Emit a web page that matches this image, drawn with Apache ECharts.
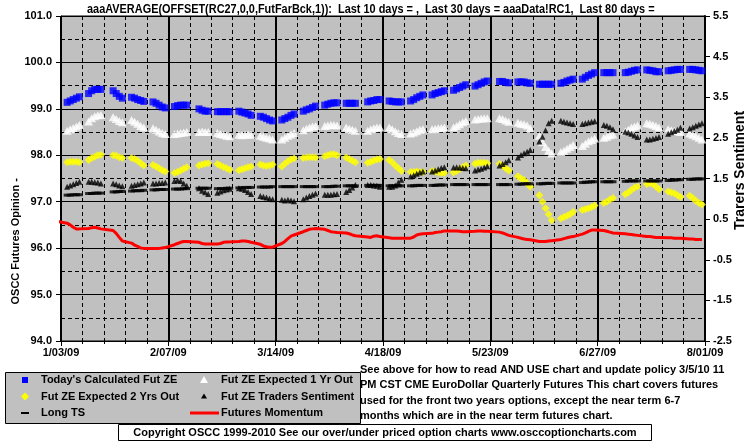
<!DOCTYPE html>
<html><head><meta charset="utf-8">
<script src="https://cdn.jsdelivr.net/npm/echarts@6/dist/echarts.min.js"></script>
<style>html,body{margin:0;padding:0;background:#fff}#c{width:755px;height:446px}</style>
</head><body><div id="c"></div>
<script>
// ---- data (trading days 2009) ----
const dates = ['1/2',
'1/5','1/6','1/7','1/8','1/9','1/12','1/13','1/14','1/15','1/16','1/20','1/21','1/22','1/23',
'1/26','1/27','1/28','1/29','1/30','2/2','2/3','2/4','2/5','2/6','2/9','2/10','2/11','2/12','2/13',
'2/17','2/18','2/19','2/20','2/23','2/24','2/25','2/26','2/27','3/2','3/3','3/4','3/5','3/6',
'3/9','3/10','3/11','3/12','3/13','3/16','3/17','3/18','3/19','3/20','3/23','3/24','3/25','3/26','3/27',
'3/30','3/31','4/1','4/2','4/3','4/6','4/7','4/8','4/9','4/13','4/14','4/15','4/16','4/17',
'4/20','4/21','4/22','4/23','4/24','4/27','4/28','4/29','4/30','5/1','5/4','5/5','5/6','5/7','5/8',
'5/11','5/12','5/13','5/14','5/15','5/18','5/19','5/20','5/21','5/22','5/26','5/27','5/28','5/29',
'6/1','6/2','6/3','6/4','6/5','6/8','6/9','6/10','6/11','6/12','6/15','6/16','6/17','6/18','6/19',
'6/22','6/23','6/24','6/25','6/26','6/29','6/30','7/1','7/2','7/6','7/7','7/8','7/9','7/10',
'7/13','7/14','7/15','7/16','7/17','7/20','7/21','7/22','7/23','7/24','7/27','7/28','7/29','7/30','7/31'];

const tickLabels = ['1/03/09','2/07/09','3/14/09','4/18/09','5/23/09','6/27/09','8/01/09'];

const calcFutZE = [null,
99.14,99.17,99.20,99.23,99.26, 99.33,99.39,99.42,99.42,99.42, 99.39,99.33,99.27,99.23,
99.25,99.23,99.20,99.18,99.16, 99.15,99.12,99.08,99.04,99.02, 99.05,99.07,99.08,99.08,99.08,
99.00,98.97,98.95,98.95, 98.94,98.94,98.94,98.94,98.94, 98.95,98.93,98.91,98.89,98.86,
98.84,98.82,98.79,98.76,98.74, 98.76,98.79,98.82,98.86,98.89, 98.95,98.98,99.00,99.03,99.06,
99.08,99.10,99.12,99.13,99.13, 99.12,99.12,99.12,99.12, 99.15,99.17,99.18,99.20,99.20,
99.17,99.16,99.15,99.15,99.15, 99.17,99.20,99.24,99.27,99.30, 99.30,99.33,99.35,99.37,99.39,
99.40,99.43,99.46,99.49,99.52, 99.49,99.52,99.55,99.58,99.60, 99.59,99.59,99.57,99.56,
99.58,99.58,99.58,99.56,99.55, 99.53,99.53,99.53,99.53,99.53, 99.55,99.57,99.60,99.62,99.64,
99.64,99.68,99.72,99.75,99.78, 99.78,99.78,99.78,99.78, 99.78,99.79,99.81,99.83,99.84,
99.84,99.83,99.82,99.80,99.80, 99.82,99.83,99.84,99.85,99.85, 99.85,99.85,99.84,99.83,99.82];

const expected1Yr = [null,
98.53,98.56,98.59,98.62,98.65, 98.73,98.80,98.84,98.86,98.87, 98.82,98.78,98.74,98.71,
98.76,98.72,98.68,98.63,98.60, 98.58,98.55,98.51,98.48,98.46, 98.46,98.47,98.48,98.49,98.50,
98.50,98.51,98.50,98.50, 98.48,98.46,98.44,98.42,98.41, 98.44,98.43,98.44,98.45,98.44,
98.42,98.40,98.38,98.36,98.34, 98.34,98.38,98.42,98.45,98.48, 98.54,98.57,98.60,98.62,98.63,
98.63,98.64,98.65,98.65,98.64, 98.60,98.57,98.55,98.53, 98.53,98.56,98.58,98.60,98.60,
98.60,98.56,98.52,98.48,98.46, 98.47,98.49,98.52,98.55,98.56, 98.56,98.57,98.58,98.59,98.60,
98.60,98.63,98.67,98.71,98.74, 98.77,98.78,98.79,98.80,98.80, 98.80,98.78,98.75,98.72,
98.70,98.68,98.67,98.64,98.58, 98.42,98.28,98.18,98.10,98.04, 98.07,98.10,98.14,98.18,98.22,
98.20,98.25,98.30,98.33,98.36, 98.38,98.40,98.43,98.45, 98.52,98.55,98.60,98.62,98.64,
98.69,98.68,98.66,98.63,98.60, 98.56,98.54,98.53,98.52,98.50, 98.47,98.44,98.41,98.38,98.34];

const expected2Yrs = [null,
97.85,97.86,97.86,97.86,97.85, 97.90,97.94,97.97,98.00,98.01, 98.00,97.99,97.96,97.94,
97.94,97.92,97.88,97.83,97.78, 97.79,97.76,97.72,97.68,97.65, 97.62,97.64,97.67,97.71,97.74,
97.78,97.80,97.82,97.83, 97.81,97.78,97.75,97.72,97.69, 97.68,97.70,97.72,97.74,97.76,
97.80,97.78,97.77,97.78,97.80, 97.76,97.82,97.87,97.91,97.93, 97.94,97.95,97.96,97.96,97.95,
97.98,98.00,98.02,98.02,98.00, 97.95,97.92,97.88,97.85, 97.84,97.86,97.89,97.91,97.92,
97.90,97.85,97.78,97.72,97.66, 97.64,97.64,97.65,97.64,97.64, 97.66,97.65,97.63,97.62,97.62,
97.63,97.66,97.70,97.74,97.78, 97.82,97.84,97.84,97.84,97.83, 97.82,97.77,97.72,97.67,
97.55,97.50,97.47,97.40,97.32, 97.14,97.00,96.86,96.73,96.60, 96.64,96.67,96.70,96.73,96.78,
96.82,96.84,96.86,96.88,96.92, 96.97,97.00,97.05,97.08, 97.16,97.20,97.25,97.30,97.33,
97.38,97.40,97.38,97.33,97.27, 97.22,97.20,97.18,97.14,97.10, 97.13,97.08,97.02,96.97,96.94];

const tradersSentiment = [null,
1.30,1.33,1.36,1.39,1.42, 1.42,1.42,1.41,1.40,1.38, 1.38,1.36,1.33,1.31,
1.32,1.34,1.36,1.38,1.40, 1.38,1.38,1.39,1.39,1.40, 1.44,1.46,1.44,1.38,1.32,
1.26,1.20,1.16,1.12, 1.15,1.18,1.21,1.23,1.25, 1.26,1.25,1.22,1.17,1.12,
1.07,1.05,1.03,1.01,0.99, 0.98,0.96,0.98,0.96,0.94, 0.99,1.03,1.07,1.10,1.13,
1.10,1.10,1.10,1.11,1.12, 1.17,1.22,1.28,1.34, 1.34,1.34,1.33,1.32,1.30,
1.30,1.30,1.33,1.40,1.47, 1.55,1.58,1.62,1.65,1.67, 1.67,1.70,1.73,1.76,1.78,
1.77,1.78,1.77,1.76,1.75, 1.70,1.72,1.74,1.77,1.80, 1.82,1.86,1.90,1.95,
2.02,2.08,2.12,2.16,2.20, 2.41,2.53,2.69,2.86,2.92, 2.92,2.90,2.88,2.86,2.84,
2.84,2.86,2.88,2.90,2.91, 2.82,2.80,2.76,2.71, 2.65,2.63,2.60,2.56,2.52,
2.46,2.46,2.48,2.50,2.52, 2.60,2.64,2.67,2.70,2.75, 2.73,2.76,2.80,2.83,2.86];

const longTS = [null,
1.09,1.09,1.10,1.10,1.10, 1.13,1.13,1.14,1.14,1.14, 1.17,1.17,1.18,1.18,
1.19,1.20,1.20,1.20,1.21, 1.22,1.22,1.23,1.23,1.23, 1.24,1.24,1.24,1.25,1.25,
1.26,1.26,1.26,1.26, 1.25,1.25,1.25,1.26,1.26, 1.27,1.27,1.28,1.28,1.28,
1.29,1.29,1.29,1.29,1.30, 1.30,1.30,1.30,1.30,1.30, 1.30,1.30,1.30,1.30,1.30,
1.30,1.30,1.30,1.31,1.31, 1.32,1.32,1.32,1.32, 1.33,1.33,1.33,1.33,1.33,
1.32,1.32,1.32,1.32,1.32, 1.32,1.32,1.33,1.33,1.33, 1.33,1.33,1.34,1.34,1.34,
1.35,1.35,1.35,1.35,1.35, 1.35,1.35,1.35,1.35,1.35, 1.35,1.35,1.35,1.35,
1.36,1.36,1.37,1.37,1.37, 1.37,1.37,1.38,1.38,1.38, 1.39,1.39,1.39,1.39,1.39,
1.40,1.41,1.41,1.42,1.42, 1.42,1.42,1.42,1.42, 1.43,1.44,1.44,1.44,1.44,
1.44,1.44,1.44,1.44,1.44, 1.45,1.46,1.46,1.47,1.47, 1.48,1.48,1.49,1.49,1.49];

const futuresMomentum = [0.44,
0.40,0.36,0.30,0.26,0.26, 0.27,0.29,0.30,0.28,0.26, 0.22,0.15,0.05,-0.04,
-0.09,-0.14,-0.17,-0.21,-0.22, -0.22,-0.22,-0.22,-0.21,-0.20, -0.13,-0.10,-0.07,-0.05,-0.05,
-0.07,-0.10,-0.11,-0.11, -0.11,-0.10,-0.07,-0.06,-0.06, -0.05,-0.04,-0.04,-0.05,-0.07,
-0.12,-0.16,-0.18,-0.19,-0.19, -0.10,-0.05,0.02,0.08,0.11, 0.19,0.22,0.25,0.26,0.27,
0.25,0.22,0.19,0.18,0.17, 0.16,0.14,0.11,0.09, 0.06,0.05,0.08,0.09,0.07,
0.04,0.03,0.03,0.03,0.03, 0.03,0.06,0.11,0.13,0.14, 0.15,0.17,0.18,0.19,0.21,
0.21,0.21,0.20,0.19,0.19, 0.20,0.21,0.21,0.20,0.20, 0.18,0.16,0.13,0.10,
0.05,0.03,0.01,0.00,-0.01, -0.05,-0.05,-0.05,-0.04,-0.03, 0.00,0.02,0.04,0.06,0.07,
0.13,0.16,0.20,0.23,0.23, 0.22,0.20,0.18,0.16, 0.14,0.13,0.12,0.11,0.10,
0.07,0.07,0.06,0.05,0.05, 0.04,0.04,0.03,0.03,0.03, 0.01,0.01,0.00,0.00,0.00];

const seriesNames = ["Today's Calculated Fut ZE","Fut ZE Expected 1 Yr Out","Fut ZE Expected 2 Yrs Out",
  "Fut ZE Traders Sentiment","Long TS","Futures Momentum"];
const titleText = "aaaAVERAGE(OFFSET(RC27,0,0,FutFarBck,1)):  Last 10 days = ,  Last 30 days = aaaData!RC1,  Last 80 days =";
const noteLines = ["See above for how to read AND USE chart and update policy 3/5/10 11",
  "PM CST CME EuroDollar Quarterly Futures This chart covers futures",
  "used for the front two years options, except the near term 6-7",
  "months which are in the near term futures chart."];
const copyrightText = "Copyright OSCC 1999-2010 See our over/under priced option charts www.osccoptioncharts.com";

// ---- build ----
const origin = Date.UTC(2009,0,3);
const xs = dates.map(s => { const p = s.split('/').map(Number); return (Date.UTC(2009,p[0]-1,p[1]) - origin)/86400000; });
const pts = arr => xs.map((x,i) => [x, arr[i]]).filter(p => p[1] != null);

const SANS = "'Liberation Sans',Arial,sans-serif";
const lab = {color:'#000', fontWeight:'bold', fontFamily:SANS, fontSize:11};

const chart = echarts.init(document.getElementById('c'), null, {renderer:'canvas'});
const legendRows = [380, 396.5, 413];
chart.setOption({
  animation:false,
  backgroundColor:'#fff',
  grid:{left:61, right:50, top:16, bottom:105, show:true, backgroundColor:'#C0C0C0', borderColor:'#000', borderWidth:1},
  xAxis:{type:'value', min:0, max:210, interval:35,
    axisLine:{onZero:false, lineStyle:{color:'#000', width:1}},
    axisTick:{length:5, lineStyle:{color:'#000'}},
    minorTick:{show:true, splitNumber:5, length:3, lineStyle:{color:'#000'}},
    axisLabel:Object.assign({margin:6, formatter:v => tickLabels[Math.round(v/35)]}, lab),
    splitLine:{show:true, lineStyle:{color:'#000', width:2}},
    minorSplitLine:{show:true, lineStyle:{color:'#000', width:1, type:[4,3]}}},
  yAxis:[
    {type:'value', min:94, max:101, interval:1, position:'left',
      axisLine:{show:true, lineStyle:{color:'#000'}},
      axisTick:{show:true, length:5, lineStyle:{color:'#000'}},
      axisLabel:Object.assign({margin:9, formatter:v => v.toFixed(1)}, lab),
      splitLine:{show:true, lineStyle:{color:'#000', width:1}},
      minorTick:{show:false, splitNumber:2},
      minorSplitLine:{show:true, lineStyle:{color:'#000', width:1, type:[4,3]}}},
    {type:'value', min:-2.5, max:5.5, interval:1, position:'right',
      axisLine:{show:true, lineStyle:{color:'#000', width:2}},
      axisTick:{show:true, length:5, lineStyle:{color:'#000'}},
      axisLabel:Object.assign({margin:8, formatter:v => v.toFixed(1)}, lab),
      splitLine:{show:false}}
  ],
  series:[
    {name:seriesNames[0], type:'scatter', yAxisIndex:0, data:pts(calcFutZE), symbol:'rect', symbolSize:7, itemStyle:{color:'#0000FF'}, z:3},
    {name:seriesNames[1], type:'scatter', yAxisIndex:0, data:pts(expected1Yr), symbol:'triangle', symbolSize:[9,8], itemStyle:{color:'#FFFFFF'}, z:3},
    {name:seriesNames[2], type:'scatter', yAxisIndex:0, data:pts(expected2Yrs), symbol:'diamond', symbolSize:8, itemStyle:{color:'#FFFF00'}, z:3},
    {name:seriesNames[3], type:'scatter', yAxisIndex:1, data:pts(tradersSentiment), symbol:'triangle', symbolSize:6, itemStyle:{color:'#000'}, z:4},
    {name:seriesNames[4], type:'scatter', yAxisIndex:1, data:pts(longTS), symbol:'rect', symbolSize:[7,3], itemStyle:{color:'#000'}, z:4},
    {name:seriesNames[5], type:'line', yAxisIndex:1, data:pts(futuresMomentum), showSymbol:false, symbol:'none', clip:false,
      lineStyle:{color:'#FF0000', width:3}, itemStyle:{color:'#FF0000'}, z:5}
  ],
  graphic:[
    {type:'text', x:87, y:9, scaleX:0.84, style:{text:titleText, font:"bold 13px "+SANS, fill:'#000', textAlign:'left', textVerticalAlign:'middle'}},
    {type:'text', left:10, top:178, rotation:Math.PI/2, style:{text:'OSCC Futures Opinion -', font:"bold 11px "+SANS, fill:'#000'}},
    {type:'text', x:733, y:230, rotation:Math.PI/2, style:{text:'Trarers Sentiment', font:"bold 14px "+SANS, fill:'#000'}},
    {type:'rect', shape:{x:5.5, y:372.5, width:355, height:51}, style:{fill:'#C0C0C0', stroke:'#000', lineWidth:1}, z:1},
    {type:'rect', shape:{x:22, y:legendRows[0]-3, width:6, height:6}, style:{fill:'#0000FF'}, z:2},
    {type:'polygon', shape:{points:[[25,legendRows[1]-4],[29,legendRows[1]],[25,legendRows[1]+4],[21,legendRows[1]]]}, style:{fill:'#FFFF00'}, z:2},
    {type:'rect', shape:{x:21, y:legendRows[2]-1, width:8, height:2}, style:{fill:'#000'}, z:2},
    {type:'polygon', shape:{points:[[204,legendRows[0]-4],[208,legendRows[0]+3],[200,legendRows[0]+3]]}, style:{fill:'#FFFFFF'}, z:2},
    {type:'polygon', shape:{points:[[204,legendRows[1]-3],[207,legendRows[1]+2],[201,legendRows[1]+2]]}, style:{fill:'#000'}, z:2},
    {type:'line', shape:{x1:190, y1:legendRows[2], x2:219, y2:legendRows[2]}, style:{stroke:'#FF0000', lineWidth:3}, z:2},
    {type:'text', x:41, y:legendRows[0], style:{text:seriesNames[0], font:"bold 11px "+SANS, fill:'#000', textVerticalAlign:'middle'}, z:2},
    {type:'text', x:41, y:legendRows[1], style:{text:seriesNames[2], font:"bold 11px "+SANS, fill:'#000', textVerticalAlign:'middle'}, z:2},
    {type:'text', x:41, y:legendRows[2], style:{text:seriesNames[4], font:"bold 11px "+SANS, fill:'#000', textVerticalAlign:'middle'}, z:2},
    {type:'text', x:221, y:legendRows[0], style:{text:seriesNames[1], font:"bold 11px "+SANS, fill:'#000', textVerticalAlign:'middle'}, z:2},
    {type:'text', x:221, y:legendRows[1], style:{text:seriesNames[3], font:"bold 11px "+SANS, fill:'#000', textVerticalAlign:'middle'}, z:2},
    {type:'text', x:221, y:legendRows[2], style:{text:seriesNames[5], font:"bold 11px "+SANS, fill:'#000', textVerticalAlign:'middle'}, z:2},
    {type:'text', x:360, y:362, style:{text:noteLines.join('\n'), font:"bold 11px "+SANS, lineHeight:15.5, fill:'#000'}, z:3},
    {type:'rect', shape:{x:118.5, y:424.5, width:533, height:16}, style:{fill:'#fff', stroke:'#000', lineWidth:1}, z:3},
    {type:'text', x:385, y:433, style:{text:copyrightText, font:"bold 11px "+SANS, fill:'#000', textAlign:'center', textVerticalAlign:'middle'}, z:4}
  ]
});
</script></body></html>
